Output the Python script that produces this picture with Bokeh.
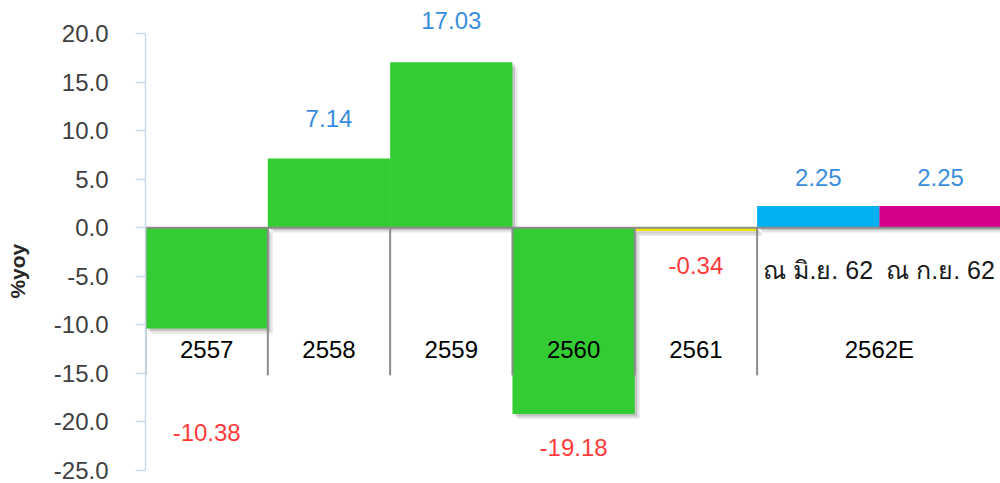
from bokeh.plotting import figure
from bokeh.models import FixedTicker, NumeralTickFormatter, ColumnDataSource, LinearAxis
from bokeh.core.properties import value
from bokeh.embed import file_html
from bokeh.resources import INLINE

# ---- data ----
categories = ["2557", "2558", "2559", "2560", "2561", "2562E"]
sub_labels = ["ณ มิ.ย. 62", "ณ ก.ย. 62"]
bar_names = ["2557", "2558", "2559", "2560", "2561", "ณ มิ.ย. 62", "ณ ก.ย. 62"]
values = [-10.38, 7.14, 17.03, -19.18, -0.34, 2.25, 2.25]
value_texts = ["-10.38", "7.14", "17.03", "-19.18", "-0.34", "2.25", "2.25"]
bar_colors = ["#33CC33", "#33CC33", "#33CC33", "#33CC33", "#F2E600", "#00B0F0", "#D4008C"]
y_ticks = [-25, -20, -15, -10, -5, 0, 5, 10, 15, 20]
y_title = "%yoy"

# ---- layout helpers (positions, not data) ----
slot_left = list(range(len(values)))
label_y = [-21.1, 11.25, 21.35, -22.6, -3.9, 5.2, 5.2]
group_span = [1, 1, 1, 1, 1, 2]
FONT = "Liberation Sans"

p = figure(width=1000, height=483, x_range=(0, 6.99), y_range=(-26.34, 23.4),
           x_axis_type=None, output_backend="svg", toolbar_location=None,
           min_border_left=145, min_border_right=0, min_border_top=0, min_border_bottom=0)
p.outline_line_color = None
p.xgrid.visible = False
p.ygrid.visible = False
p.background_fill_color = "white"

# y axis
ax = p.yaxis[0]
ax.bounds = (-25, 20)
ax.ticker = FixedTicker(ticks=y_ticks)
ax.formatter = NumeralTickFormatter(format="0.0")
ax.axis_line_color = "#C5DBEF"
ax.axis_line_width = 1.5
ax.major_tick_line_color = "#C5DBEF"
ax.major_tick_line_width = 1.5
ax.major_tick_out = 10
ax.major_tick_in = 0
ax.minor_tick_line_color = None
ax.major_label_standoff = 27
ax.major_label_text_font = FONT
ax.major_label_text_font_size = "24px"
ax.major_label_text_color = "#404040"

# second (label-only) axis for the y title; trailing no-break spaces push the
# visible text a little below the frame's middle, as in the original
ax2 = LinearAxis(ticker=FixedTicker(ticks=[]),
                 axis_line_color=None, major_tick_line_color=None,
                 minor_tick_line_color=None, major_label_text_font_size="0px",
                 axis_label=y_title + "\u00a0" * 10, axis_label_standoff=22,
                 axis_label_text_font=FONT, axis_label_text_font_size="21px",
                 axis_label_text_font_style="bold", axis_label_text_color="#262626")
p.add_layout(ax2, "left")

# bars
lefts = [float(i) for i in slot_left]
rights = [float(i + 1) for i in slot_left]
tops = [max(v, 0) for v in values]
bottoms = [min(v, 0) for v in values]
src = ColumnDataSource(dict(left=lefts, right=rights, top=tops, bottom=bottoms,
                            color=bar_colors))

# soft shadow (two layers)
dx1, dy1 = 0.02, 0.25
dx2, dy2 = 0.04, 0.5
p.quad(left=[l + dx2 for l in lefts], right=[r + dx2 for r in rights],
       top=[t - dy2 for t in tops], bottom=[b - dy2 for b in bottoms],
       fill_color="#000000", fill_alpha=0.10, line_color=None)
p.quad(left=[l + dx1 for l in lefts], right=[r + dx1 for r in rights],
       top=[t - dy1 for t in tops], bottom=[b - dy1 for b in bottoms],
       fill_color="#000000", fill_alpha=0.15, line_color=None)
p.quad(left="left", right="right", top="top", bottom="bottom", source=src,
       fill_color="color", line_color=None)

# category separators and zero line
seps = [0, 1, 2, 3, 4, 5, 7]
p.segment(x0=seps, x1=seps, y0=[0] * len(seps), y1=[-15.2] * len(seps),
          line_color="#8C8C8C", line_width=2)
p.segment(x0=[0], x1=[7], y0=[0], y1=[0], line_color="#8C8C8C", line_width=2)

# category labels
centers = []
pos = 0
for span in group_span:
    centers.append(pos + span / 2)
    pos += span
p.text(x=centers, y=[-12.55] * len(categories), text=categories,
       text_align="center", text_baseline="middle", text_font=value(FONT),
       text_font_size="24px", text_color="#000000")
p.text(x=[5.5, 6.5], y=[-4.4, -4.4], text=sub_labels,
       text_align="center", text_baseline="middle", text_font=value(FONT),
       text_font_size="25px", text_color="#1A1A1A")

# value labels
val_colors = ["#3A8DDE" if v > 0 else "#FF3B3B" for v in values]
p.text(x=[i + 0.5 for i in slot_left], y=label_y, text=value_texts,
       text_align="center", text_baseline="middle", text_font=value(FONT),
       text_font_size="24px", text_color=val_colors)

open("out.html", "w").write(file_html(p, INLINE))
